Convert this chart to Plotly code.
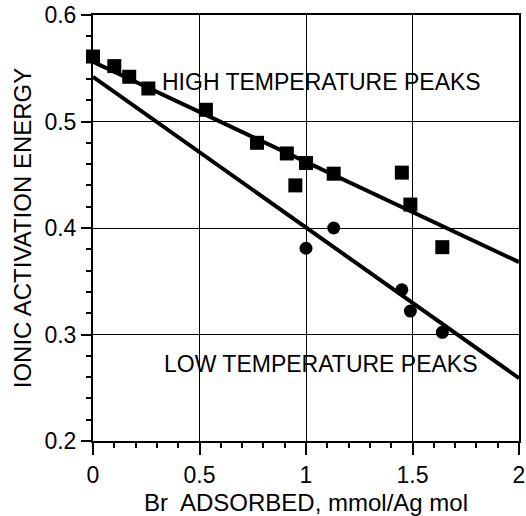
import plotly.graph_objects as go

# High temperature peaks (squares)
high_x = [0.0, 0.10, 0.17, 0.26, 0.53, 0.77, 0.91, 0.95, 1.0, 1.13, 1.45, 1.49, 1.64]
high_y = [0.561, 0.552, 0.542, 0.531, 0.511, 0.480, 0.470, 0.440, 0.461, 0.451, 0.452, 0.422, 0.382]

# Low temperature peaks (circles)
low_x = [1.0, 1.13, 1.45, 1.49, 1.64]
low_y = [0.381, 0.400, 0.342, 0.322, 0.302]

# Fitted lines
fit_x = [0.0, 2.0]
high_fit = [0.556, 0.368]
low_fit = [0.542, 0.259]

FONT = "Liberation Sans, Arial, sans-serif"

fig = go.Figure()
fig.add_trace(go.Scatter(x=fit_x, y=high_fit, mode="lines",
                         line=dict(color="black", width=4), cliponaxis=False))
fig.add_trace(go.Scatter(x=fit_x, y=low_fit, mode="lines",
                         line=dict(color="black", width=4), cliponaxis=False))
fig.add_trace(go.Scatter(x=high_x, y=high_y, mode="markers",
                         marker=dict(symbol="square", size=14, color="black"),
                         cliponaxis=False))
fig.add_trace(go.Scatter(x=low_x, y=low_y, mode="markers",
                         marker=dict(symbol="circle", size=13, color="black"),
                         cliponaxis=False))

fig.add_annotation(x=0.315, y=0.537, xref="x", yref="y", text="HIGH TEMPERATURE PEAKS",
                   showarrow=False, xanchor="left", yanchor="middle",
                   font=dict(family=FONT, size=23, color="black"))
fig.add_annotation(x=0.324, y=0.272, xref="x", yref="y", text="LOW TEMPERATURE PEAKS",
                   showarrow=False, xanchor="left", yanchor="middle",
                   font=dict(family=FONT, size=23, color="black"))

fig.update_layout(
    width=526, height=516,
    margin=dict(l=93, r=7, t=15, b=75, autoexpand=False),
    paper_bgcolor="white", plot_bgcolor="white",
    showlegend=False,
    font=dict(family=FONT, size=23, color="black"),
)
fig.update_xaxes(
    range=[0, 2], tickvals=[0, 0.5, 1, 1.5, 2], ticktext=["0", "0.5", "1", "1.5", "2"],
    showline=True, linecolor="black", linewidth=2, mirror=True,
    showgrid=True, gridcolor="black", gridwidth=1, zeroline=False,
    ticks="outside", ticklen=12, tickwidth=2, tickcolor="black",
    minor=dict(dtick=0.1, ticks="outside", ticklen=5, tickwidth=1.5, tickcolor="black", showgrid=False),
    tickfont=dict(size=23), automargin=False,
    title=dict(text="Br  ADSORBED, mmol/Ag mol", font=dict(size=24), standoff=10),
)
fig.update_yaxes(
    range=[0.2, 0.6], tickvals=[0.2, 0.3, 0.4, 0.5, 0.6], ticktext=["0.2", "0.3", "0.4", "0.5", "0.6"],
    showline=True, linecolor="black", linewidth=2, mirror=True,
    showgrid=True, gridcolor="black", gridwidth=1, zeroline=False,
    ticks="outside", ticklen=10, tickwidth=2, tickcolor="black",
    minor=dict(dtick=0.02, ticks="outside", ticklen=5, tickwidth=1.5, tickcolor="black", showgrid=False),
    tickfont=dict(size=23), automargin=False,
    title=dict(text="IONIC ACTIVATION ENERGY", font=dict(size=24), standoff=6),
)

fig.write_html("out.html")
